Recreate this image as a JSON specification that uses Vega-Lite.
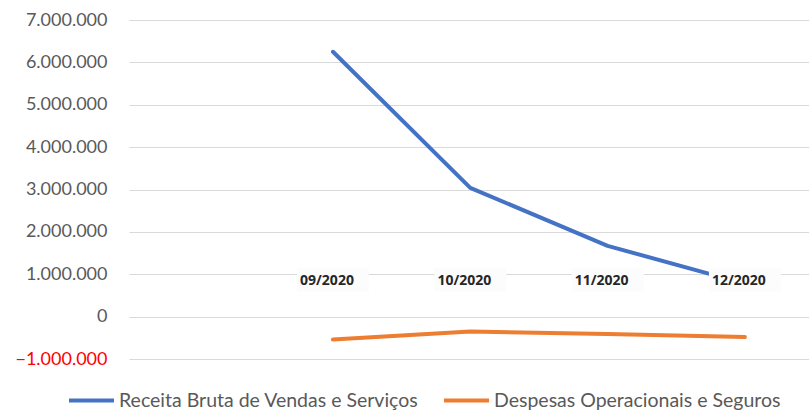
{
  "$schema": "https://vega.github.io/schema/vega-lite/v6.json",
  "width": 680,
  "height": 339,
  "autosize": {"type": "none"},
  "padding": {"left": 129, "top": 20, "right": 0, "bottom": 55},
  "background": "white",
  "config": {"view": {"stroke": null}, "font": "Lato"},
  "data": {"values": [
    {"mes": "09/2020", "serie": "Receita Bruta de Vendas e Serviços", "valor": 6250000},
    {"mes": "10/2020", "serie": "Receita Bruta de Vendas e Serviços", "valor": 3040000},
    {"mes": "11/2020", "serie": "Receita Bruta de Vendas e Serviços", "valor": 1670000},
    {"mes": "12/2020", "serie": "Receita Bruta de Vendas e Serviços", "valor": 780000},
    {"mes": "09/2020", "serie": "Despesas Operacionais e Seguros", "valor": -540000},
    {"mes": "10/2020", "serie": "Despesas Operacionais e Seguros", "valor": -350000},
    {"mes": "11/2020", "serie": "Despesas Operacionais e Seguros", "valor": -410000},
    {"mes": "12/2020", "serie": "Despesas Operacionais e Seguros", "valor": -480000}
  ]},
  "encoding": {
    "x": {"field": "mes", "type": "ordinal", "scale": {"type": "point", "padding": 0.976, "align": 0.761}, "axis": null}
  },
  "layer": [
    {
      "mark": {"type": "line", "strokeWidth": 4, "strokeCap": "round", "strokeJoin": "round"},
      "encoding": {
        "y": {
          "field": "valor", "type": "quantitative",
          "scale": {"domain": [-1000000, 7000000], "nice": false, "zero": false},
          "axis": {
            "values": [-1000000, 0, 1000000, 2000000, 3000000, 4000000, 5000000, 6000000, 7000000],
            "grid": true, "gridColor": "#d9d9d9", "gridWidth": 1,
            "domain": false, "ticks": false, "title": null,
            "labelExpr": "replace(format(datum.value, ','), /,/g, '.')",
            "labelFontSize": 18, "labelFont": "Lato", "labelPadding": 22,
            "labelColor": {"condition": {"test": "datum.value < 0", "value": "#ff0000"}, "value": "#595959"}
          }
        },
        "color": {
          "field": "serie", "type": "nominal",
          "scale": {"domain": ["Receita Bruta de Vendas e Serviços", "Despesas Operacionais e Seguros"], "range": ["#4472C4", "#ED7D31"]},
          "legend": {
            "orient": "none", "legendX": -62, "legendY": 356, "direction": "horizontal",
            "title": null, "symbolType": "stroke", "symbolStrokeWidth": 4, "symbolSize": 2025,
            "labelFontSize": 19.5, "labelColor": "#595959", "labelFont": "Lato", "labelLimit": 0,
            "columnPadding": 17, "labelOffset": 3
          }
        }
      }
    },
    {
      "transform": [{"filter": "datum.serie == 'Despesas Operacionais e Seguros'"}],
      "mark": {"type": "bar", "width": 72, "color": "#fcfcfc"},
      "encoding": {
        "y": {"datum": 1150000},
        "y2": {"datum": 600000}
      }
    },
    {
      "transform": [{"filter": "datum.serie == 'Despesas Operacionais e Seguros'"}],
      "mark": {"type": "text", "fontSize": 14, "fontWeight": "bold", "font": "Open Sans", "color": "#262626", "dx": -6},
      "encoding": {
        "y": {"datum": 830000},
        "text": {"field": "mes"}
      }
    }
  ]
}
